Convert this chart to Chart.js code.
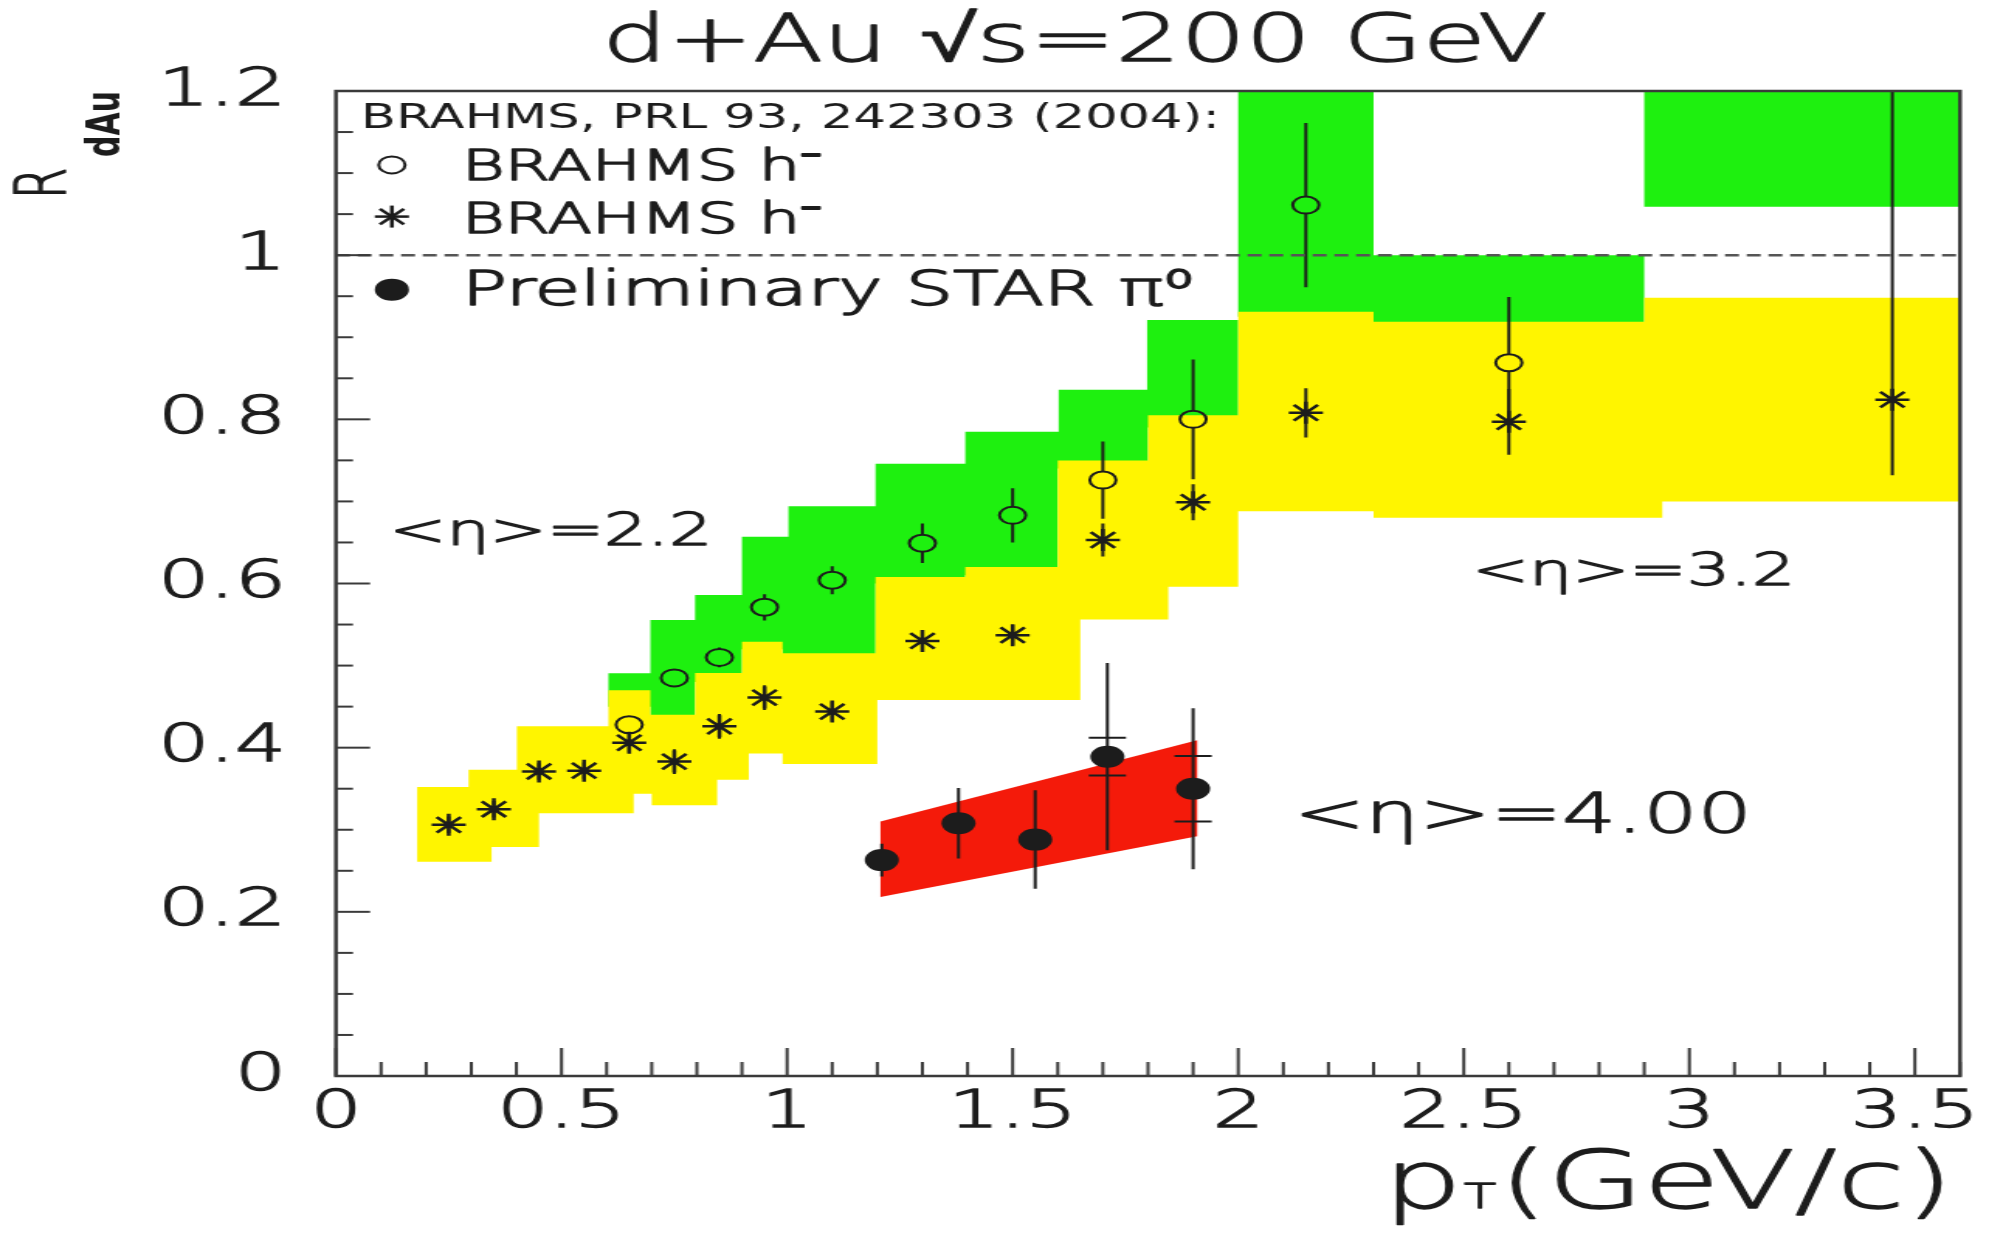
<!DOCTYPE html>
<html>
<head>
<meta charset="utf-8">
<title>R_dAu vs pT, d+Au 200 GeV</title>
<script src="https://cdn.jsdelivr.net/npm/chart.js@4.4.1/dist/chart.umd.min.js"></script>
<style>
  html, body { margin: 0; padding: 0; background: #fff; overflow: hidden; }
  /* the original figure is stretched sideways, so the whole canvas is too */
  #chartRdAu { display: block; transform: scaleX(1.5503); transform-origin: 0 0; }
</style>
</head>
<body>
<canvas id="chartRdAu" width="1283" height="1239"></canvas>
<script>
// BRAHMS h- , open circles (<eta>=2.2)
const circlePt  = [0.65, 0.75, 0.85, 0.95, 1.1, 1.3, 1.5, 1.7, 1.9, 2.15, 2.6];
const circleR   = [0.428, 0.485, 0.510, 0.571, 0.604, 0.649, 0.683, 0.726, 0.800, 1.061, 0.869];
const circleErr = [0.008, 0.010, 0.012, 0.016, 0.017, 0.024, 0.033, 0.047, 0.073, 0.100, 0.080];

// BRAHMS h- , stars (<eta>=3.2)
const starPt      = [0.25, 0.35, 0.45, 0.55, 0.65, 0.75, 0.85, 0.95, 1.1, 1.3, 1.5, 1.7, 1.9, 2.15, 2.6, 3.45];
const starR       = [0.306, 0.325, 0.371, 0.372, 0.406, 0.383, 0.426, 0.461, 0.444, 0.530, 0.537, 0.653, 0.699, 0.808, 0.797, 0.824];
const starErrLow  = [0.010, 0.010, 0.010, 0.010, 0.012, 0.015, 0.015, 0.015, 0.012, 0.012, 0.012, 0.020, 0.022, 0.030, 0.040, 0.092];
const starErrHigh = [0.010, 0.010, 0.010, 0.010, 0.012, 0.015, 0.015, 0.015, 0.012, 0.012, 0.012, 0.020, 0.022, 0.030, 0.040, 0.450];

// Preliminary STAR pi0 (<eta>=4.00)
const pi0Pt  = [1.21, 1.38, 1.55, 1.71, 1.90];
const pi0R   = [0.263, 0.308, 0.288, 0.389, 0.350];
const pi0Err = [0.020, 0.043, 0.060, 0.114, 0.098];
const pi0Sys = [null, null, null, 0.023, 0.040];

// systematic bands, step edges (edges have one more entry than levels)
const greenTopEdges = [0.604, 0.697, 0.796, 0.90, 1.003, 1.196, 1.395, 1.602, 1.798, 2.0, 2.3, 2.9, 3.6];
const greenTop      = [0.4906, 0.5556, 0.586, 0.657, 0.694, 0.746, 0.785, 0.836, 0.921, 1.25, 1.0, 1.25];
const greenLowEdges = [0.604, 0.697, 0.796, 0.90, 0.99, 1.196, 1.395, 1.60, 1.80, 2.0, 2.3, 2.9, 3.6];
const greenLow      = [0.45, 0.43, 0.48, 0.52, 0.50, 0.60, 0.61, 0.74, 0.79, 0.925, 0.915, 1.059];

const yellowTopEdges = [0.18, 0.294, 0.401, 0.604, 0.697, 0.796, 0.90, 0.99, 1.196, 1.395, 1.60, 1.80, 2.0, 2.3, 2.9, 3.6];
const yellowTop      = [0.352, 0.373, 0.426, 0.470, 0.440, 0.491, 0.529, 0.515, 0.608, 0.620, 0.750, 0.805, 0.931, 0.919, 0.948];
const yellowLowEdges = [0.18, 0.345, 0.45, 0.66, 0.70, 0.845, 0.915, 0.99, 1.2, 1.65, 1.845, 2.0, 2.3, 2.94, 3.6];
const yellowLow      = [0.261, 0.279, 0.320, 0.344, 0.330, 0.361, 0.393, 0.380, 0.458, 0.556, 0.596, 0.688, 0.680, 0.700];

const redBandPt   = [1.207, 1.909];
const redBandHigh = [0.310, 0.409];
const redBandLow  = [0.218, 0.292];

// R = 1 reference
const unityPt = [0, 3.6];
const unityR  = [1, 1];

const GREEN = '#1ef00f';
const YELLOW = '#fff500';
const RED = '#f41a0a';
const INK = '#1c1c1c';
const FONT = "'DejaVu Sans', sans-serif";
const LIGHT = '300 ';

const toXY = (xs, ys) => xs.map((v, i) => ({ x: v, y: ys[i] }));
const fmtTick = (v) => String(Math.round(v * 100) / 100);

function stepBand(ctx, x, y, tEdges, tVals, lEdges, lVals, color) {
    ctx.beginPath();
    ctx.moveTo(x.getPixelForValue(tEdges[0]), y.getPixelForValue(tVals[0]));
    for (let i = 0; i < tVals.length; i++) {
        ctx.lineTo(x.getPixelForValue(tEdges[i]), y.getPixelForValue(tVals[i]));
        ctx.lineTo(x.getPixelForValue(tEdges[i + 1]), y.getPixelForValue(tVals[i]));
    }
    for (let j = lVals.length - 1; j >= 0; j--) {
        ctx.lineTo(x.getPixelForValue(lEdges[j + 1]), y.getPixelForValue(lVals[j]));
        ctx.lineTo(x.getPixelForValue(lEdges[j]), y.getPixelForValue(lVals[j]));
    }
    ctx.closePath();
    ctx.fillStyle = color;
    ctx.fill();
}

function seg(ctx, x1, y1, x2, y2) {
    ctx.beginPath();
    ctx.moveTo(x1, y1);
    ctx.lineTo(x2, y2);
    ctx.stroke();
}

// light font with a thin outline, a bit heavier than the bare ExtraLight
function label(ctx, str, px, py, font) {
    ctx.font = font;
    ctx.fillText(str, px, py);
    ctx.strokeText(str, px, py);
}

function marker(ctx, style, px, py) {
    ctx.save();
    ctx.strokeStyle = INK;
    ctx.fillStyle = INK;
    if (style === 'open') {
        ctx.lineWidth = 2;
        ctx.beginPath(); ctx.arc(px, py, 8.5, 0, Math.PI * 2); ctx.stroke();
    } else if (style === 'full') {
        ctx.beginPath(); ctx.arc(px, py, 11, 0, Math.PI * 2); ctx.fill();
    } else {
        const r = 11, d = Math.cos(Math.PI / 4) * r;
        ctx.lineWidth = 2.5;
        seg(ctx, px, py - r, px, py + r);
        seg(ctx, px - r, py, px + r, py);
        seg(ctx, px - d, py - d, px + d, py + d);
        seg(ctx, px - d, py + d, px + d, py - d);
    }
    ctx.restore();
}

const figurePlugin = {
    id: 'figure',
    beforeDatasetsDraw(chart) {
        const { ctx, chartArea: a, scales: { x, y } } = chart;
        ctx.save();
        ctx.beginPath();
        ctx.rect(a.left, a.top, a.right - a.left, a.bottom - a.top);
        ctx.clip();

        //bands: green under yellow
        stepBand(ctx, x, y, greenTopEdges, greenTop, greenLowEdges, greenLow, GREEN);
        stepBand(ctx, x, y, yellowTopEdges, yellowTop, yellowLowEdges, yellowLow, YELLOW);

        ctx.beginPath();
        ctx.moveTo(x.getPixelForValue(redBandPt[0]), y.getPixelForValue(redBandHigh[0]));
        ctx.lineTo(x.getPixelForValue(redBandPt[1]), y.getPixelForValue(redBandHigh[1]));
        ctx.lineTo(x.getPixelForValue(redBandPt[1]), y.getPixelForValue(redBandLow[1]));
        ctx.lineTo(x.getPixelForValue(redBandPt[0]), y.getPixelForValue(redBandLow[0]));
        ctx.closePath();
        ctx.fillStyle = RED;
        ctx.fill();

        //error bars
        ctx.strokeStyle = INK;
        ctx.lineWidth = 2;
        chart.data.datasets.forEach((ds) => {
            if (!ds.errLow) return;
            const gap = ds.errGap || 0;
            ds.data.forEach((p, k) => {
                const px = x.getPixelForValue(p.x);
                const py = y.getPixelForValue(p.y);
                const top = y.getPixelForValue(p.y + ds.errHigh[k]);
                const bot = y.getPixelForValue(p.y - ds.errLow[k]);
                if (py - gap > top) seg(ctx, px, top, px, py - gap);
                if (py + gap < bot) seg(ctx, px, py + gap, px, bot);
                if (ds.sys && ds.sys[k] !== null) {
                    const up = y.getPixelForValue(p.y + ds.sys[k]);
                    const dn = y.getPixelForValue(p.y - ds.sys[k]);
                    seg(ctx, px - 12, up, px + 12, up);
                    seg(ctx, px - 12, dn, px + 12, dn);
                }
            });
        });
        ctx.restore();
    },
    afterDatasetsDraw(chart) {
        const { ctx, chartArea: a, scales: { x, y } } = chart;
        ctx.save();

        // frame
        ctx.strokeStyle = '#3a3a3a';
        ctx.lineWidth = 2.5;
        ctx.strokeRect(a.left, a.top, a.right - a.left, a.bottom - a.top);

        // inward ticks, minor every 0.05 / 0.1
        ctx.lineWidth = 2;
        for (let k = 0; k <= 24; k++) {
            const py = y.getPixelForValue(k * 0.05);
            seg(ctx, a.left, py, a.left + (k % 4 === 0 ? 22 : 11), py);
        }
        for (let k = 0; k <= 36; k++) {
            const px = x.getPixelForValue(k * 0.1);
            seg(ctx, px, a.bottom, px, a.bottom - (k % 5 === 0 ? 28 : 14));
        }

        ctx.fillStyle = INK;
        ctx.strokeStyle = INK;
        ctx.lineWidth = 1.3;
        ctx.lineJoin = 'round';

        // title
        ctx.textAlign = 'center';
        ctx.textBaseline = 'middle';
        label(ctx, 'd+Au √s=200 GeV', 693.4, 43.4, LIGHT + '66px ' + FONT);

        ctx.textBaseline = 'alphabetic';
        ctx.textAlign = 'left';

        // eta labels
        label(ctx, '<η>=2.2', x.getPixelForValue(0.118), y.getPixelForValue(0.647), LIGHT + '44px ' + FONT);
        label(ctx, '<η>=3.2', x.getPixelForValue(2.518), y.getPixelForValue(0.598), LIGHT + '44px ' + FONT);
        label(ctx, '<η>=4.00', x.getPixelForValue(2.123), y.getPixelForValue(0.297), LIGHT + '55px ' + FONT);

        // legend
        ctx.font = '33px ' + FONT;
        ctx.fillText('BRAHMS, PRL 93, 242303 (2004):', x.getPixelForValue(0.0555), y.getPixelForValue(1.155));
        const mx = x.getPixelForValue(0.124);
        const tx = x.getPixelForValue(0.2795);
        marker(ctx, 'open', mx, y.getPixelForValue(1.110));
        marker(ctx, 'star', mx, y.getPixelForValue(1.047));
        marker(ctx, 'full', mx, y.getPixelForValue(0.958));
        ctx.lineWidth = 1.6;
        label(ctx, 'BRAHMS h⁻', tx, y.getPixelForValue(1.0916), LIGHT + '42px ' + FONT);
        label(ctx, 'BRAHMS h⁻', tx, y.getPixelForValue(1.027), LIGHT + '42px ' + FONT);
        label(ctx, 'Preliminary STAR π⁰', tx, y.getPixelForValue(0.939), LIGHT + '48px ' + FONT);
        ctx.lineWidth = 1.3;

        // x title: p_T(GeV/c), right aligned
        const big = LIGHT + '80px ' + FONT;
        const small = LIGHT + '34px ' + FONT;
        ctx.font = big;
        const wP = ctx.measureText('p').width;
        const wRest = ctx.measureText('(GeV/c)').width;
        ctx.font = small;
        const wT = ctx.measureText('T').width;
        const cx = 1260 - (wP + wT + 3 + wRest);
        label(ctx, 'p', cx, 1208, big);
        label(ctx, 'T', cx + wP + 1, 1208, small);
        label(ctx, '(GeV/c)', cx + wP + wT + 3, 1208, big);

        // y title: R_dAu, rotated
        ctx.save();
        ctx.translate(42, 199);
        ctx.rotate(-Math.PI / 2);
        label(ctx, 'R', 0, 0, LIGHT + '45px ' + FONT);
        ctx.restore();
        ctx.save();
        ctx.translate(77.4, 157);
        ctx.rotate(-Math.PI / 2);
        ctx.font = 'bold 30px ' + FONT;
        ctx.fillText('dAu', 0, 0);
        ctx.restore();

        ctx.restore();
    }
};

const contRdAu = document.getElementById('chartRdAu');
const configRdAu = {
    type: 'scatter',
    data: {
        datasets: [
            {
                label: 'Preliminary STAR π0',
                data: toXY(pi0Pt, pi0R),
                errLow: pi0Err,
                errHigh: pi0Err,
                sys: pi0Sys,
                pointStyle: 'circle',
                pointRadius: 11,
                pointBackgroundColor: INK,
                pointBorderColor: INK,
                pointBorderWidth: 0
            },
            {
                label: 'BRAHMS h- (circles)',
                data: toXY(circlePt, circleR),
                errLow: circleErr,
                errHigh: circleErr,
                errGap: 8.5,
                pointStyle: 'circle',
                pointRadius: 8.5,
                pointBackgroundColor: 'rgba(0,0,0,0)',
                pointBorderColor: INK,
                pointBorderWidth: 2
            },
            {
                label: 'BRAHMS h- (stars)',
                data: toXY(starPt, starR),
                errLow: starErrLow,
                errHigh: starErrHigh,
                pointStyle: 'star',
                pointRadius: 11,
                pointBorderColor: INK,
                pointBorderWidth: 2.5
            },
            {
                label: 'R = 1',
                data: toXY(unityPt, unityR),
                showLine: true,
                borderColor: '#555',
                borderWidth: 2.5,
                borderDash: [9, 5],
                pointRadius: 0
            }
        ]
    },
    options: {
        responsive: false,
        animation: false,
        events: [],
        layout: { padding: { left: 80, right: 17.4, top: 91, bottom: 0 } },
        plugins: {
            legend: { display: false },
            tooltip: { enabled: false },
            title: { display: false }
        },
        scales: {
            x: {
                type: 'linear',
                min: 0,
                max: 3.6,
                grid: { display: false, drawTicks: false },
                border: { display: false },
                ticks: {
                    stepSize: 0.5,
                    includeBounds: false,
                    maxRotation: 0,
                    autoSkip: false,
                    padding: 6,
                    color: INK,
                    textStrokeColor: INK,
                    textStrokeWidth: 1.3,
                    font: { family: FONT, size: 52, weight: 300 },
                    callback: fmtTick
                },
                afterFit: (scale) => { scale.height = 163; }
            },
            y: {
                type: 'linear',
                min: 0,
                max: 1.2,
                grid: { display: false, drawTicks: false },
                border: { display: false },
                ticks: {
                    stepSize: 0.2,
                    padding: 32,
                    color: INK,
                    textStrokeColor: INK,
                    textStrokeWidth: 1.3,
                    font: { family: FONT, size: 52, weight: 300 },
                    callback: fmtTick
                },
                afterFit: (scale) => { scale.width = 136.7; }
            }
        }
    },
    plugins: [figurePlugin]
};

const chartRdAu = new Chart(contRdAu, configRdAu);
</script>
</body>
</html>
